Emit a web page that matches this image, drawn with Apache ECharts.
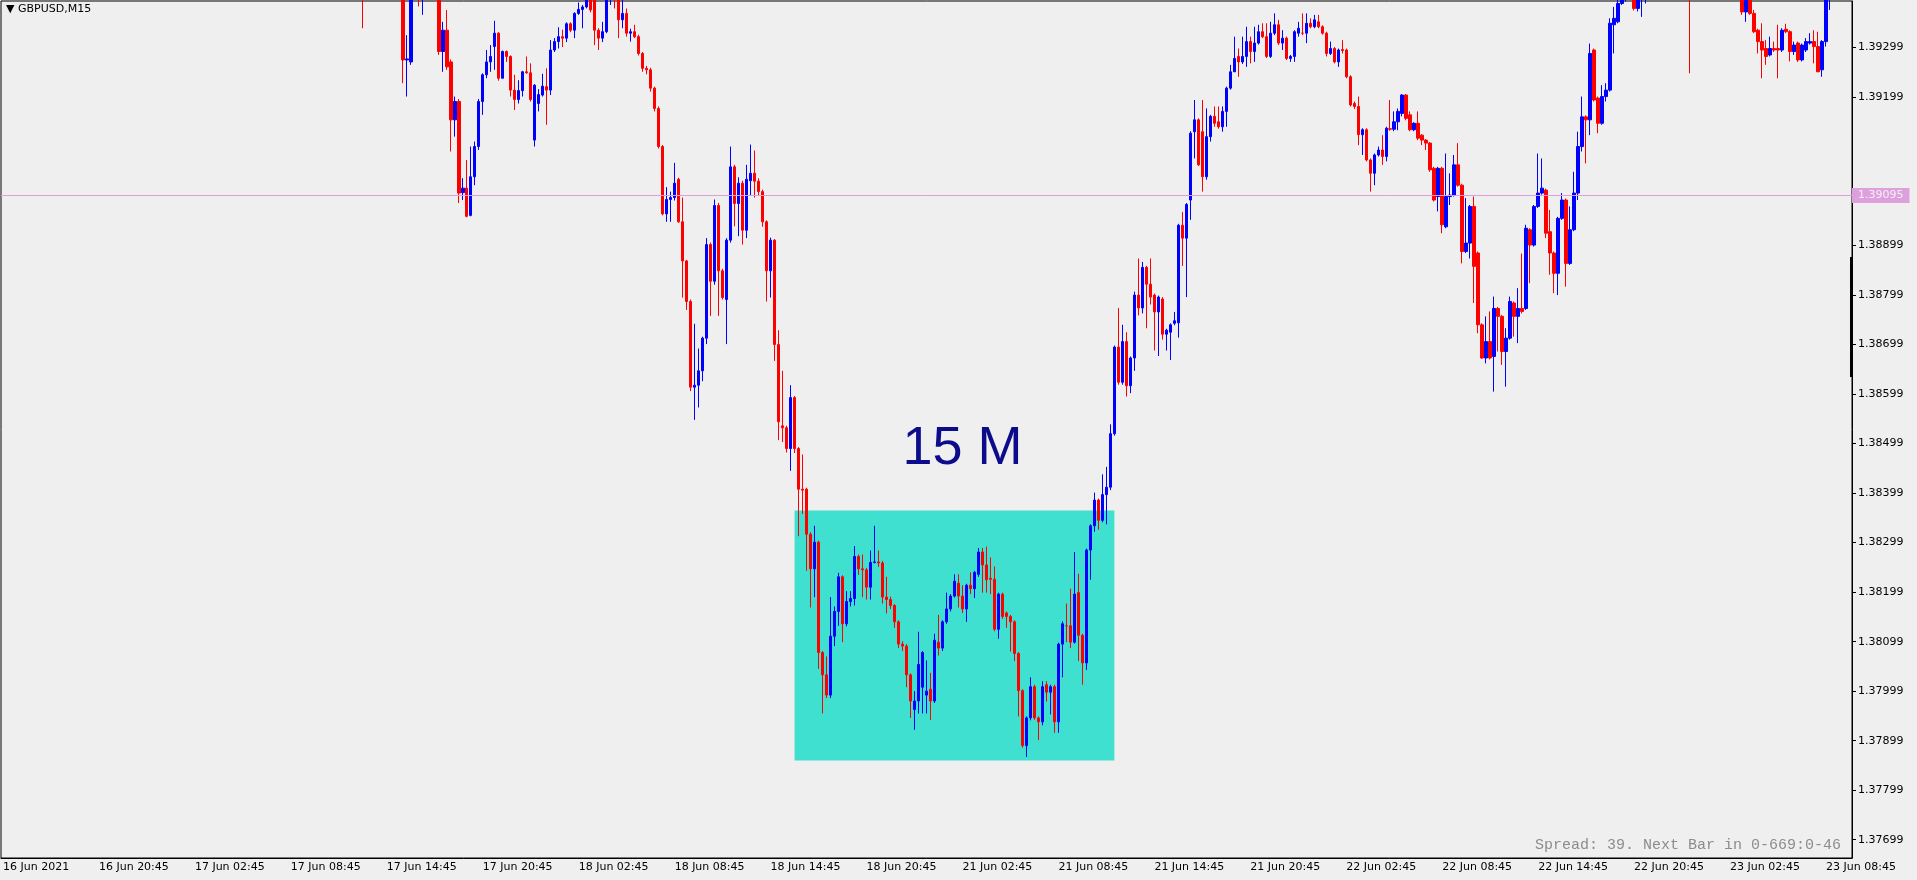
<!DOCTYPE html>
<html>
<head>
<meta charset="utf-8">
<title>GBPUSD,M15</title>
<script src="https://cdn.jsdelivr.net/npm/echarts@6/dist/echarts.min.js"></script>
<style>
  html, body { margin: 0; padding: 0; background: #efefef; }
  #chart { width: 1917px; height: 880px; }
</style>
</head>
<body>
<div id="chart"></div>
<script>
// 价格以 1.37000 为基准，单位为 0.00001 (points)
const BASE = 1.37;
const FIRST_BAR = 90;      // 第一根有数据的K线序号 (17 Jun 13:15)
const BAR_COUNT = 463;     // 含右侧空白
const timeLabels = ['16 Jun 2021', '16 Jun 20:45', '17 Jun 02:45', '17 Jun 08:45', '17 Jun 14:45',
  '17 Jun 20:45', '18 Jun 02:45', '18 Jun 08:45', '18 Jun 14:45', '18 Jun 20:45', '21 Jun 02:45',
  '21 Jun 08:45', '21 Jun 14:45', '21 Jun 20:45', '22 Jun 02:45', '22 Jun 08:45', '22 Jun 14:45',
  '22 Jun 20:45', '23 Jun 02:45', '23 Jun 08:45'];
const priceTicks = [1.39299, 1.39199, 1.38999, 1.38899, 1.38799, 1.38699, 1.38599, 1.38499,
  1.38399, 1.38299, 1.38199, 1.38099, 1.37999, 1.37899, 1.37799, 1.37699];
const levelLines = [1.39095, 1.39056];
const boxRange = { from: 198, to: 278, low: 1.37859, high: 1.38364 };

// [open, close, low, high]
const bars17Jun = [
  [2440,2430,2338,2450],[2430,2445,2420,2455],[2445,2460,2435,2470],[2460,2450,2440,2475],[2450,2465,2440,2480],
  [2465,2455,2445,2470],[2455,2440,2430,2462],[2440,2450,2425,2458],[2450,2435,2420,2455],[2435,2420,2405,2440],
  [2420,2274,2227,2430],[2274,2276,2200,2324],[2270,2420,2264,2430],[2420,2430,2400,2450],[2430,2420,2382,2440],
  [2420,2435,2365,2445],[2435,2440,2410,2455],[2440,2430,2405,2450],[2430,2420,2400,2440],[2420,2291,2284,2430],
  [2291,2334,2250,2351],[2334,2260,2254,2375],[2270,2153,2089,2275],[2153,2190,2119,2200],[2190,2005,1985,2195],
  [2006,2015,1991,2035],[2015,1958,1956,2072],[1960,2038,1958,2099],[2038,2099,2021,2109],[2099,2190,2092,2195],
  [2190,2244,2163,2247],[2244,2270,2237,2294],[2270,2281,2250,2304],[2301,2328,2254,2353],[2328,2237,2232,2330],
  [2237,2291,2237,2293],[2291,2281,2270,2293],[2281,2213,2200,2283],[2213,2194,2173,2244],[2194,2212,2186,2233],
  [2212,2250,2200,2252],[2250,2248,2246,2281],[2248,2194,2190,2267]
];
const bars18Jun = [
  [2112,2223,2099,2225],[2186,2204,2170,2215],[2203,2221,2200,2246],[2220,2213,2143,2257],[2213,2294,2203,2314],
  [2294,2311,2290,2318],[2311,2321,2297,2340],[2321,2318,2300,2335],[2318,2347,2310,2350],[2347,2334,2330,2350],
  [2334,2368,2318,2370],[2368,2376,2365,2390],[2376,2381,2338,2385],[2381,2400,2378,2420],[2400,2375,2370,2420],
  [2410,2334,2304,2415],[2334,2318,2294,2338],[2318,2331,2310,2351],[2331,2410,2328,2420],[2410,2420,2385,2440],
  [2420,2410,2378,2440],[2410,2355,2318,2415],[2355,2368,2338,2400],[2368,2328,2321,2378],[2328,2331,2311,2337],
  [2331,2321,2318,2345],[2321,2287,2283,2325],[2287,2257,2250,2290],[2257,2254,2245,2262],[2254,2217,2210,2258],
  [2217,2176,2170,2220],[2176,2099,2095,2180],[2099,1963,1960,2102],[1963,1992,1947,2017],[1992,1996,1947,2008],
  [1996,2025,1990,2066],[2033,1947,1945,2036],[1947,1868,1794,1996],[1868,1786,1769,1870],[1786,1613,1605,1790],
  [1613,1617,1547,1741],[1617,1646,1572,1691],[1646,1712,1625,1715],[1712,1901,1700,1914],[1901,1827,1757,1905],
  [1827,1980,1820,1992],[1980,1848,1757,1985],[1848,1794,1790,1852],[1790,1910,1700,1914],[1910,2058,1905,2099],
  [2058,1984,1938,2062],[1984,2025,1918,2037],[2025,1930,1901,2030],[1930,2033,1914,2062],[2030,2045,2000,2103],
  [2045,2029,1996,2091],[2029,2008,2000,2035],[2008,1947,1937,2012],[1947,1848,1786,1950],[1848,1910,1794,1915],
  [1910,1699,1666,1912],[1699,1543,1506,1728],[1535,1531,1502,1646],[1531,1489,1481,1535],[1489,1592,1444,1617],
  [1592,1489,1480,1595],[1489,1407,1312,1492],[1407,1405,1357,1477],[1407,1316,1242,1410],[1316,1246,1168,1320],
  [1246,1300,1189,1333],[1300,1077,1044,1303],[1077,1032,954,1080],[1032,991,985,1069],[991,1110,985,1189],
  [1110,1160,1090,1170],[1160,1230,1131,1238],[1230,1135,1098,1233],[1135,1180,1130,1201],[1180,1186,1170,1201],
  [1186,1271,1172,1292],[1271,1246,1234,1275],[1246,1244,1189,1275],[1244,1209,1184,1248],[1209,1259,1184,1283],
  [1259,1260,1257,1333],[1260,1258,1250,1283],[1258,1189,1176,1262],[1189,1184,1156,1230],[1184,1172,1165,1190],
  [1172,1139,1127,1175],[1139,1094,1086,1142],[1094,1090,1080,1100],[1090,1032,1007,1094],[1032,979,945,1035],
  [962,979,921,999]
];
const bars21Jun = [
  [979,1053,954,1119],[1007,1077,954,1080],[991,999,954,1061],[1003,979,941,1036],[979,1102,975,1115],
  [1098,1086,1071,1153],[1086,1139,1080,1142],[1139,1165,1135,1198],[1165,1191,1160,1195],[1191,1221,1188,1235],
  [1217,1191,1168,1235],[1191,1165,1157,1213],[1165,1213,1139,1216],[1213,1206,1195,1239],[1206,1239,1187,1242],
  [1235,1280,1230,1288],[1280,1254,1198,1288],[1254,1224,1198,1291],[1227,1225,1195,1269],[1225,1124,1120,1251],
  [1124,1195,1105,1198],[1195,1150,1145,1198],[1157,1150,1127,1160],[1150,1139,1079,1153],[1139,1075,1060,1142],
  [1075,1000,948,1078],[1000,889,885,1003],[889,945,866,948],[945,1008,940,1027],[1008,945,941,1012],
  [945,937,900,948],[937,1008,930,1019],[1012,997,978,1019],[997,1008,952,1012],[1008,937,915,1012],
  [937,1094,915,1097],[1094,1135,1027,1140],[1131,1131,1098,1176],[1131,1098,1086,1206],[1098,1195,1095,1280],
  [1198,1112,1060,1236],[1112,1056,1012,1115],[1056,1284,1042,1287],[1284,1333,1224,1336],[1333,1385,1321,1400],
  [1385,1344,1325,1388],[1344,1396,1340,1437],[1396,1411,1336,1452],[1411,1519,1405,1538],[1519,1694,1515,1697],
  [1694,1623,1618,1773],[1623,1705,1618,1739],[1705,1616,1594,1724],[1616,1672,1601,1675],[1672,1799,1646,1806],
  [1799,1773,1758,1873],[1773,1855,1762,1866],[1855,1821,1732,1858],[1821,1795,1780,1873],[1799,1765,1687,1802],
  [1765,1795,1676,1798],[1791,1720,1709,1795],[1720,1728,1687,1731],[1724,1739,1668,1742],[1742,1747,1738,1765],
  [1743,1940,1713,1943],[1940,1914,1858,1967],[1914,1982,1795,1985],[1991,2126,1951,2130],[2129,2153,2075,2193],
  [2153,2062,2060,2156],[2129,2038,2008,2193],[2038,2119,2032,2176],[2119,2160,2109,2163],[2160,2146,2139,2180],
  [2149,2139,2135,2180],[2139,2170,2129,2180],[2170,2217,2139,2220],[2217,2250,2214,2264],[2250,2277,2250,2321],
  [2281,2270,2240,2297],[2270,2281,2266,2321],[2281,2311,2260,2341],[2311,2291,2267,2321],[2291,2308,2270,2341],
  [2308,2331,2305,2345],[2331,2321,2318,2348],[2321,2281,2278,2348],[2281,2328,2278,2351],[2328,2345,2324,2368],
  [2345,2308,2304,2355],[2308,2318,2294,2334],[2318,2277,2274,2321],[2277,2281,2270,2284],[2281,2331,2270,2334],
  [2328,2338,2321,2351]
];
const bars22Jun = [
  [2328,2328,2324,2368],[2328,2348,2308,2368],[2348,2341,2338,2358],[2341,2355,2338,2365],[2351,2341,2338,2365],
  [2341,2328,2325,2344],[2328,2287,2281,2331],[2287,2297,2284,2311],[2297,2270,2267,2300],[2270,2294,2260,2297],
  [2295,2293,2287,2314],[2294,2240,2237,2297],[2240,2183,2180,2243],[2186,2180,2175,2190],[2180,2123,2102,2200],
  [2123,2133,2082,2136],[2133,2072,2069,2136],[2072,2045,2008,2075],[2045,2082,2021,2085],[2082,2092,2079,2099],
  [2092,2079,2062,2122],[2079,2136,2069,2139],[2135,2134,2131,2193],[2134,2149,2130,2170],[2149,2170,2132,2176],
  [2166,2203,2160,2205],[2203,2156,2152,2205],[2163,2133,2130,2170],[2133,2146,2130,2148],[2146,2116,2112,2170],
  [2122,2112,2102,2124],[2112,2106,2092,2114],[2106,2052,2048,2108],[2055,1991,1988,2058],[1998,2055,1968,2058],
  [2055,1941,1924,2058],[1937,1998,1934,2085],[1998,2001,1981,2045],[2001,2062,1998,2082],[2062,2021,2018,2106],
  [2021,1887,1863,2024],[1887,1904,1884,1995],[1904,1978,1873,1981],[1978,1857,1783,1998],[1884,1739,1722,1887],
  [1739,1672,1670,1742],[1672,1705,1661,1756],[1705,1672,1669,1766],[1675,1772,1604,1796],[1772,1756,1685,1775],
  [1756,1685,1658,1759],[1685,1712,1614,1732],[1712,1786,1709,1796],[1783,1756,1715,1786],[1756,1772,1702,1813],
  [1772,1766,1762,1883],[1772,1934,1769,1941],[1931,1900,1823,1934],[1900,1978,1897,1981],[1978,2005,1975,2085],
  [2005,2015,2002,2075],[2011,1924,1914,2014],[1927,1884,1840,1971],[1884,1843,1803,1887],[1843,1954,1799,1957],
  [1954,1991,1951,2005],[1991,1863,1816,1994],[1863,1931,1860,1978],[1931,2005,1928,2048],[2005,2099,1991,2129],
  [2099,2159,2089,2200],[2159,2153,2065,2162],[2153,2287,2122,2307],[2294,2193,2190,2297],[2197,2146,2126,2200],
  [2146,2200,2143,2223],[2200,2213,2190,2227],[2213,2348,2210,2358],[2345,2358,2287,2381],[2351,2388,2348,2400],
  [2388,2400,2385,2420],[2400,2415,2392,2430],[2415,2410,2398,2435],[2410,2378,2374,2420],[2378,2410,2372,2425],
  [2410,2420,2361,2430],[2420,2430,2388,2440],[2430,2445,2415,2455],[2445,2440,2420,2460],[2440,2455,2430,2470],
  [2455,2450,2435,2468],[2450,2440,2425,2460],[2440,2452,2430,2462],[2452,2445,2432,2460],[2445,2438,2420,2455],
  [2438,2430,2415,2448]
];
const bars23Jun = [
  [2430,2425,2410,2440],[2425,2420,2247,2432],[2420,2435,2410,2445],[2435,2450,2428,2460],[2450,2445,2432,2462],
  [2445,2458,2440,2470],[2458,2450,2440,2468],[2450,2440,2425,2458],[2440,2448,2430,2455],[2448,2435,2420,2452],
  [2435,2428,2410,2440],[2428,2438,2415,2445],[2438,2430,2412,2442],[2430,2420,2405,2435],[2420,2371,2365,2430],
  [2371,2420,2351,2425],[2420,2368,2365,2425],[2368,2331,2328,2375],[2334,2311,2287,2337],[2311,2294,2237,2348],
  [2297,2281,2264,2314],[2284,2297,2281,2321],[2297,2294,2290,2311],[2297,2294,2237,2345],[2294,2334,2290,2338],
  [2336,2331,2328,2347],[2331,2291,2271,2334],[2291,2304,2284,2311],[2308,2274,2270,2311],[2274,2304,2271,2307],
  [2294,2311,2290,2318],[2308,2311,2305,2328],[2311,2301,2267,2334],[2301,2250,2250,2331],[2254,2311,2240,2314],
  [2311,2400,2301,2410],[2400,2410,2375,2420]
];

const toPrice = p => +(BASE + p / 100000).toFixed(5);

// 组装K线数据，前面和右侧没有数据的位置用 '-'
const categories = [];
for (let i = 0; i < BAR_COUNT; i++) categories.push(String(i));
const allBars = [].concat(bars17Jun, bars18Jun, bars21Jun, bars22Jun, bars23Jun);
const seriesData = categories.map((c, i) => {
  const bar = allBars[i - FIRST_BAR];
  return bar ? bar.map(toPrice) : '-';
});

const chart = echarts.init(document.getElementById('chart'));
const FONT = 'DejaVu Sans';

const option = {
  backgroundColor: '#efefef',
  animation: false,
  grid: {
    left: 1, right: 65, top: 1, bottom: 22,
    show: true, borderColor: '#000', borderWidth: 1
  },
  xAxis: {
    type: 'category',
    data: categories,
    boundaryGap: true,
    axisLine: { lineStyle: { color: '#000' } },
    axisTick: {
      alignWithLabel: true,
      interval: i => i % 24 === 0,
      length: 4,
      lineStyle: { color: '#000' }
    },
    axisLabel: {
      interval: i => i % 24 === 0,
      formatter: (v, i) => timeLabels[i / 24] || '',
      align: 'left',
      margin: 4,
      color: '#000',
      fontFamily: FONT,
      fontSize: 11
    },
    splitLine: { show: false }
  },
  yAxis: {
    type: 'value',
    position: 'right',
    scale: true,
    min: 1.37662,
    max: 1.39393,
    axisLine: { show: true, lineStyle: { color: '#000' } },
    axisTick: { show: true, customValues: priceTicks, length: 4, lineStyle: { color: '#000' } },
    axisLabel: {
      customValues: priceTicks,
      formatter: v => v.toFixed(5),
      margin: 6,
      color: '#000',
      fontFamily: FONT,
      fontSize: 11
    },
    splitLine: { show: false }
  },
  series: [{
    type: 'candlestick',
    data: seriesData,
    barWidth: 3,
    clip: true,
    itemStyle: {
      color: '#0000ff', color0: '#ff0000',
      borderColor: '#0000ff', borderColor0: '#ff0000',
      borderWidth: 1
    },
    markArea: {
      silent: true,
      itemStyle: { color: '#40e0d0', opacity: 1 },
      data: [[
        { xAxis: boxRange.from, yAxis: boxRange.high },
        { xAxis: boxRange.to, yAxis: boxRange.low }
      ]]
    },
    markLine: {
      silent: true,
      symbol: 'none',
      animation: false,
      data: [
        {
          yAxis: levelLines[0],
          lineStyle: { color: '#dda0dd', width: 1, type: 'solid' },
          label: {
            position: 'end', distance: 0, formatter: levelLines[0].toFixed(5),
            backgroundColor: '#dda0dd', color: '#f6eef6', padding: [2, 6, 2, 6],
            fontFamily: FONT, fontSize: 11
          }
        },
        {
          yAxis: levelLines[1],
          lineStyle: { opacity: 0 },
          label: {
            position: 'end', distance: 0, formatter: levelLines[1].toFixed(5),
            backgroundColor: '#000', color: '#fff', padding: [2, 6, 2, 6],
            fontFamily: FONT, fontSize: 11
          }
        }
      ]
    },
    markPoint: {
      silent: true,
      symbolSize: 0,
      data: [{
        coord: [240, 1.38488],
        label: {
          show: true, formatter: '15 M', color: '#0b0b8c',
          fontFamily: 'Liberation Sans', fontSize: 54
        }
      }]
    }
  }],
  graphic: [
    {
      type: 'text', left: 6, top: 4,
      style: { text: '▼ GBPUSD,M15', fill: '#000', font: '11px "DejaVu Sans"' }
    },
    {
      type: 'text', right: 76, top: 838,
      style: { text: 'Spread: 39. Next Bar in 0-669:0-46', fill: '#8c8c8c', font: '15px "Liberation Mono"' }
    },
    {
      type: 'rect', left: 1850, top: 257,
      shape: { width: 3, height: 120 },
      style: { fill: '#000' }
    }
  ]
};

chart.setOption(option);
window.addEventListener('resize', () => chart.resize());
</script>
</body>
</html>
